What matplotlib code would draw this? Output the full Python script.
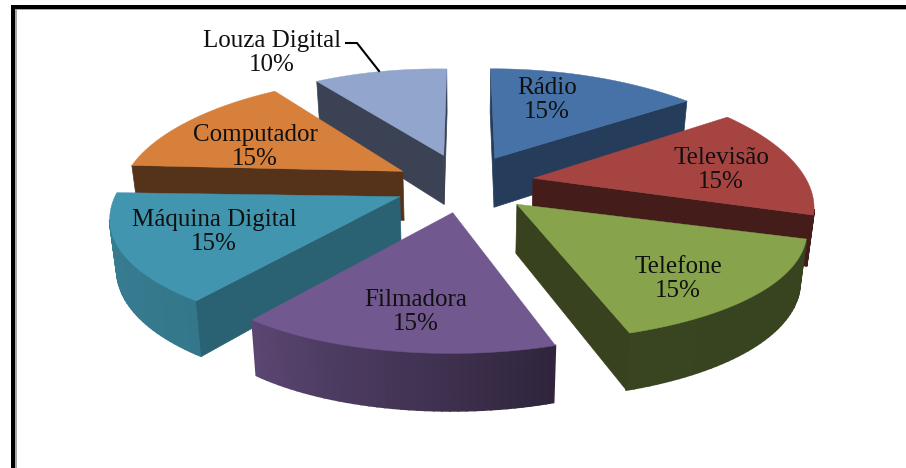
import numpy as np
import matplotlib
matplotlib.use('Agg')
import matplotlib.pyplot as plt
from matplotlib.patches import Rectangle

labels = ['Rádio', 'Televisão', 'Telefone', 'Filmadora', 'Máquina Digital', 'Computador', 'Louza Digital']
values = [15, 15, 15, 15, 15, 15, 10]
top_colors = ['#4672A8', '#A64442', '#87A44C', '#71588F', '#4195AE', '#D7803C', '#91A5CD']
cut_colors = ['#253C5A', '#441C1A', '#38421E', '#3A2E4A', '#2A6273', '#55331A', '#3A4254']
label_pos = [(547, 100), (721, 170), (678, 279), (416, 312), (214, 232), (255, 147), (272, 53)]

# projection of the tilted pie, in reference pixels
CX, CY = 464, 183
EXPLODE_X, EXPLODE_Y = 72, 30
RIM_X, RIM_Y, PERSP_X, PERSP_Y = 270, 108, 0.273, 0.22
DEPTH = 49

# the simple projection misses the original by a few pixels per slice
tip_nudge = [(-2, 2), (-2, 0), (2, 0), (0, 0), (0, 0), (3, 2), (2, 1)]
rim_nudge_start = [(-6, 2), (4, -2), (7, 2), (-12, 6), (-2, 1), (-3, -3), (1, 3)]
rim_nudge_end = [(2, 2), (-2, 4), (-2, 2), (1, 4), (-15, -1), (0, -3), (1, 5)]


def rim_point(theta):
    t = np.radians(theta)
    wx = 1 + PERSP_X * np.cos(t)
    wy = 1 + PERSP_Y * np.cos(t)
    return RIM_X * np.sin(t) / wx + 2, -RIM_Y * np.cos(t) / wy - 3, wx


def lower(x, y, w=1.0):
    return CX + (x - CX) * 0.98, y + DEPTH / np.sqrt(w)


def shade(color, theta):
    f = np.interp(theta, [108, 162, 216, 270], [0.41, 0.42, 0.8, 0.85])
    return tuple(c * f for c in matplotlib.colors.to_rgb(color))


def faces_viewer(a, b, inner):
    # the wall under edge a-b shows when the slice lies on the far side from the drop
    ex, ey = b[0] - a[0], b[1] - a[1]
    return (ex * (inner[1] - a[1]) - ey * (inner[0] - a[0])) * ex < 0


def draw_slice(ax, i, start, sweep):
    color, cut = top_colors[i], cut_colors[i]
    mid = np.radians(start + sweep / 2)
    tip = (CX + EXPLODE_X * np.sin(mid) + tip_nudge[i][0], CY - EXPLODE_Y * np.cos(mid) + tip_nudge[i][1])
    thetas = np.linspace(start, start + sweep, 41)
    rim = []
    for k, t in enumerate(thetas):
        dx, dy, w = rim_point(t)
        frac = k / (len(thetas) - 1)
        dx += rim_nudge_start[i][0] * (1 - frac) + rim_nudge_end[i][0] * frac
        dy += rim_nudge_start[i][1] * (1 - frac) + rim_nudge_end[i][1] * frac
        rim.append((tip[0] + dx, tip[1] + dy, w))
    xs = np.array([r[0] for r in rim])
    ys = np.array([r[1] for r in rim])
    inner = (xs.mean(), ys.mean())

    tip_low = lower(tip[0], tip[1])
    for k in range(len(rim) - 1):
        a, b = rim[k], rim[k + 1]
        if faces_viewer(a, b, tip):
            la, lb = lower(a[0], a[1], a[2]), lower(b[0], b[1], b[2])
            ax.fill([a[0], b[0], lb[0], la[0]], [a[1], b[1], lb[1], la[1]],
                    color=shade(color, (thetas[k] + thetas[k + 1]) / 2), linewidth=1.2, zorder=2)

    for r in (rim[0], rim[-1]):
        if faces_viewer(tip, r, inner):
            low = lower(r[0], r[1], r[2])
            ax.fill([tip[0], r[0], low[0], tip_low[0]], [tip[1], r[1], low[1], tip_low[1]],
                    color=cut, linewidth=0.5, zorder=2)

    ax.fill([tip[0]] + list(xs), [tip[1]] + list(ys), color=color, linewidth=0.3, zorder=2)


def main():
    fig = plt.figure(figsize=(9.06, 4.68), dpi=100)
    ax = fig.add_axes([0, 0, 1, 1])
    ax.set_xlim(0, 906)
    ax.set_ylim(468, 0)
    ax.axis('off')

    ax.add_patch(Rectangle((11, 5), 6, 463, color='#a8a8a8', linewidth=0))
    ax.add_patch(Rectangle((11, 5), 895, 5, color='#a8a8a8', linewidth=0))
    ax.add_patch(Rectangle((11, 5), 4, 463, color='black', linewidth=0))
    ax.add_patch(Rectangle((11, 5), 895, 4, color='black', linewidth=0))

    sweeps = [v / sum(values) * 360 for v in values]
    starts = np.concatenate(([0], np.cumsum(sweeps)[:-1]))
    # back slices first so the front ones cover them
    order = sorted(range(len(values)), key=lambda i: -np.cos(np.radians(starts[i] + sweeps[i] / 2)))
    for i in order:
        draw_slice(ax, i, starts[i], sweeps[i])

    for name, val, pos in zip(labels, values, label_pos):
        ax.text(pos[0], pos[1], f'{name}\n{val}%', family='Liberation Serif', fontsize=18,
                ha='center', va='center', linespacing=1.12, color='#101010', zorder=5)
    ax.plot([346, 357, 379], [43, 43, 71], color='black', linewidth=1.5, zorder=5)

    fig.savefig('out.png', dpi=100)


if __name__ == "__main__":
    main()
